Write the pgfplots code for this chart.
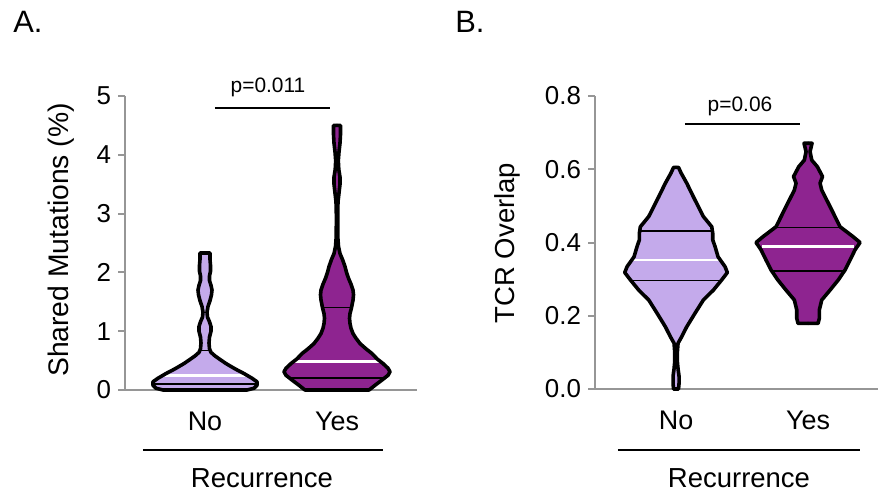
\documentclass[border=0pt]{standalone}
\usepackage{fontspec}
\setmainfont{Liberation Sans}
\usepackage{pgfplots}
\usepackage{pgfplotstable}
\pgfplotsset{compat=1.18}
\usepgfplotslibrary{fillbetween}
\definecolor{lightv}{RGB}{196,170,235}
\definecolor{darkv}{RGB}{142,36,144}
\definecolor{axgray}{RGB}{150,150,150}
\newcommand{\fs}[1]{\fontsize{#1}{#1}\selectfont}

% violin profiles: y value, half width in px (132 px = one category step)
\pgfplotstableread{
y w
0.00 0
0.00 42
0.03 49
0.08 52
0.14 52
0.20 47
0.28 39
0.36 30
0.45 21
0.52 15
0.58 10
0.64 6
0.70 4.5
0.80 4
0.90 4.5
1.00 6
1.08 6
1.16 4.5
1.24 2.5
1.32 2
1.42 3
1.52 5
1.62 6.5
1.70 7
1.78 6
1.86 4.5
1.94 4.5
2.02 5.5
2.12 5.5
2.22 5
2.33 5
2.33 0
}\noA
\pgfplotstableread{
y w
0.00 0
0.00 32
0.08 38
0.17 45
0.25 51
0.31 53
0.37 51
0.45 46
0.53 40
0.62 35
0.70 29
0.79 23
0.88 19
0.96 16
1.05 14
1.13 13
1.22 12.5
1.30 13
1.40 14.5
1.53 16
1.62 16.5
1.70 16
1.80 14
1.90 11.5
2.00 9.5
2.10 8
2.22 5.5
2.32 3
2.44 1.5
2.60 0.8
2.80 0.7
3.00 0.7
3.20 1
3.35 2
3.50 3
3.62 3
3.75 1.8
3.90 1.3
4.05 2
4.20 3
4.35 3.5
4.50 3.5
4.50 0
}\yesA
\pgfplotstableread{
y w
0.000 0
0.000 2.5
0.015 3
0.035 3
0.055 2
0.075 1.3
0.100 1.3
0.125 2
0.143 5.7
0.170 10.7
0.207 19
0.243 27.3
0.270 37.3
0.298 45.7
0.318 51.3
0.334 49
0.361 42
0.389 39
0.407 36.7
0.425 36.7
0.443 35.7
0.471 27.3
0.498 22.3
0.525 17.3
0.562 10.7
0.590 5
0.605 2.5
0.605 0
}\noB
\pgfplotstableread{
y w
0.179 0
0.179 10
0.193 11.3
0.216 11.3
0.243 13.7
0.270 22
0.298 30.3
0.325 37
0.352 42
0.380 47
0.400 52
0.416 45
0.443 32
0.480 25.3
0.516 18.7
0.543 13.7
0.562 12
0.580 14.5
0.607 9.3
0.625 3.7
0.648 2
0.671 4
0.671 0
}\yesB

\newcommand{\violinfill}[4]{% table, centre, colour, id
  \addplot[draw=none, forget plot, name path=r#4] table[x expr=#2+\thisrow{w}/132, y=y] {#1};
  \addplot[draw=none, forget plot, name path=l#4] table[x expr=#2-\thisrow{w}/132, y=y] {#1};
  \addplot[fill=#3, draw=none, forget plot] fill between[of=r#4 and l#4];
}
\newcommand{\violinline}[2]{% table, centre
  \addplot[black, line width=1.8bp, line join=round, line cap=round, forget plot] table[x expr=#2+\thisrow{w}/132, y=y] {#1};
  \addplot[black, line width=1.8bp, line join=round, line cap=round, forget plot] table[x expr=#2-\thisrow{w}/132, y=y] {#1};
}

\pgfplotsset{
  violinax/.style={
    scale only axis, anchor=south west, clip=false,
    axis lines=left, axis line style={axgray, line width=1bp, -},
    xtick={0,1}, xticklabels={No,Yes},
    x tick style={draw=none},
    y tick style={axgray, line width=1bp},
    tick align=outside, major tick length=3.5bp,
    tick label style={font=\fs{13}},
    /pgf/number format/assume math mode=true,
    xticklabel style={yshift=-4bp, font=\fs{13.5}},
    ymin=0,
  },
  q/.style={black, line width=0.8bp, forget plot},
  qm/.style={white, line width=1.4bp, forget plot},
}

\begin{document}
\begin{tikzpicture}

% Panel A
\begin{axis}[violinax,
  at={(62.5bp,-195bp)}, width=146bp, height=147bp,
  xmin=-0.606, xmax=1.606, ymax=5, ytick={0,1,2,3,4,5},
]
\violinfill{\noA}{0}{lightv}{a}
\violinfill{\yesA}{1}{darkv}{b}
\addplot[q] coordinates {(-0.40,0.10) (0.40,0.10)};
\addplot[qm] coordinates {(-0.37,0.25) (0.37,0.25)};
\addplot[q] coordinates {(-0.045,0.67) (0.045,0.67)};
\addplot[q] coordinates {(0.63,0.20) (1.37,0.20)};
\addplot[qm] coordinates {(0.667,0.49) (1.333,0.49)};
\addplot[q] coordinates {(0.888,1.40) (1.112,1.40)};
\violinline{\noA}{0}
\violinline{\yesA}{1}
\end{axis}

% Panel B
\begin{axis}[violinax,
  at={(297.5bp,-194.5bp)}, width=141.5bp, height=146.5bp,
  xmin=-0.614, xmax=1.53, ymax=0.8, ytick={0,0.2,0.4,0.6,0.8},
  yticklabel style={/pgf/number format/fixed, /pgf/number format/fixed zerofill, /pgf/number format/precision=1},
]
\violinfill{\noB}{0}{lightv}{c}
\violinfill{\yesB}{1}{darkv}{d}
\addplot[q] coordinates {(-0.355,0.296) (0.355,0.296)};
\addplot[qm] coordinates {(-0.325,0.352) (0.325,0.352)};
\addplot[q] coordinates {(-0.287,0.432) (0.287,0.432)};
\addplot[q] coordinates {(0.72,0.323) (1.28,0.323)};
\addplot[qm] coordinates {(0.652,0.389) (1.348,0.389)};
\addplot[q] coordinates {(0.758,0.441) (1.242,0.441)};
\violinline{\noB}{0}
\violinline{\yesB}{1}
\end{axis}

% annotations in pixel units of the reference
\begin{scope}[x=0.5bp, y=-0.5bp]
\node[anchor=base west, inner sep=0, font=\fs{15.5}] at (13,32) {A.};
\node[anchor=base west, inner sep=0, font=\fs{15.5}] at (455,32) {B.};
\node[rotate=90, font=\fs{14.2}] at (61,240) {Shared Mutations (\%)};
\node[rotate=90, font=\fs{13.8}] at (507,243) {TCR Overlap};
\node[anchor=base, inner sep=0, font=\fs{10.5}] at (268,93) {p=0.011};
\draw[line width=1bp] (215,108) -- (330,108);
\node[anchor=base, inner sep=0, font=\fs{10.5}] at (740,112) {p=0.06};
\draw[line width=1bp] (685,124) -- (800,124);
\draw[line width=1bp] (143,450) -- (383,450);
\node[anchor=base, inner sep=0, font=\fs{13.8}] at (262,488) {Recurrence};
\draw[line width=1bp] (618,450) -- (860,450);
\node[anchor=base, inner sep=0, font=\fs{13.8}] at (739,488) {Recurrence};
\end{scope}
\pgfresetboundingbox
\useasboundingbox (0,0) rectangle (439bp,-247.5bp);
\end{tikzpicture}
\end{document}
